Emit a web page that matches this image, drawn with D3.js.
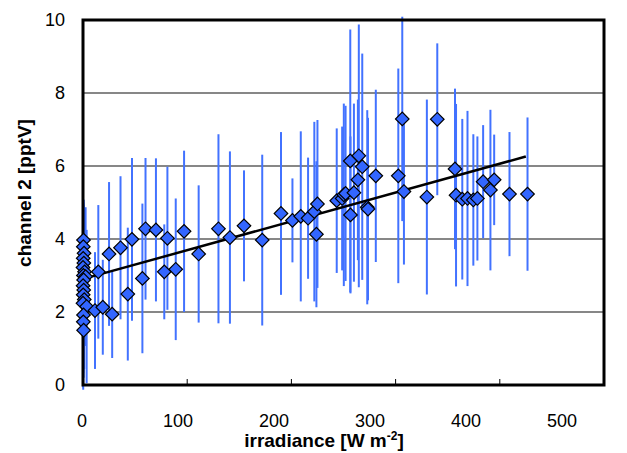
<!DOCTYPE html>
<html>
<head>
<meta charset="utf-8">
<script src="https://cdn.jsdelivr.net/npm/d3@7"></script>
<style>
  body { margin: 0; background: #fff; }
  svg { display: block; font-family: "Liberation Sans", Arial, sans-serif; }
  .tick-label { font-size: 18px; fill: #000; }
  .title { font-size: 19px; font-weight: bold; fill: #000; }
</style>
</head>
<body>
<div id="chart"></div>
<script>
// irradiance [W m-2], channel 2 [pptV], error half-width
const irradiance = [
  0.5, 0.3, 1.0, 0.2, 0.8, 0.0, 1.5, 0.4, 2.5, 0.6, 0.1, 0.7, 0.2, 1.2, 0.0, 3.5, 0.5, 0.3, 0.6,
  11.5, 14.7, 19, 25, 28, 36, 43, 47, 57, 60, 70, 78, 81, 89, 97, 111,
  130, 141, 154.5, 172, 190, 201, 209, 216, 222, 224, 225,
  243.5, 248.7, 250.3, 252, 256.5, 256.7, 260, 263.8, 264.7, 268, 272.8, 273.5, 281,
  302.6, 306.4, 308, 330, 340, 357, 358, 364, 369, 374.6, 378.5, 384, 391, 394.6, 409.3, 426.6
];
const channel2 = [
  3.97, 3.79, 3.61, 3.47, 3.34, 3.22, 3.10, 3.00, 2.97, 2.88, 2.72, 2.60, 2.47, 2.34, 2.24, 2.15, 1.92, 1.73, 1.50,
  2.04, 3.10, 2.13, 3.59, 1.94, 3.76, 2.49, 3.99, 2.92, 4.28, 4.25, 3.10, 4.02, 3.17, 4.21, 3.59,
  4.28, 4.04, 4.36, 3.97, 4.70, 4.51, 4.62, 4.57, 4.75, 4.13, 4.96,
  5.05, 5.11, 5.21, 5.25, 6.14, 4.66, 5.27, 5.62, 6.28, 5.98, 4.87, 4.82, 5.73,
  5.73, 7.29, 5.30, 5.15, 7.28, 5.92, 5.20, 5.09, 5.11, 5.07, 5.11, 5.57, 5.34, 5.62, 5.23, 5.23
];
const errHalf = [
  1.1, 1.3, 1.2, 1.5, 1.6, 1.8, 1.4, 2.0, 1.9, 1.7, 2.2, 2.1, 2.6, 1.9, 2.3, 2.1, 1.5, 1.4, 1.3,
  1.6, 1.83, 1.3, 1.97, 1.2, 1.96, 1.82, 2.23, 2.05, 1.94, 1.96, 1.3, 1.96, 1.94, 2.21, 1.88,
  2.59, 2.36, 1.52, 2.34, 2.23, 1.15, 2.33, 1.66, 2.46, 2.0, 2.3,
  1.98, 1.97, 2.5, 2.4, 3.6, 2.15, 2.44, 2.2, 3.6, 3.1, 2.66, 2.5, 2.36,
  2.94, 2.8, 2.0, 2.67, 2.08, 2.2, 2.5, 2.2, 2.4, 1.8, 1.7, 1.55, 2.2, 1.24, 1.7, 2.1
];
// linear fit drawn in the chart
const trendX = [2, 425];
const trendY = [2.92, 6.26];

const xTicks = [0, 100, 200, 300, 400, 500];
const yTicks = [0, 2, 4, 6, 8, 10];

const width = 627, height = 453;
const svg = d3.select('#chart').append('svg')
  .attr('width', width)
  .attr('height', height);

const x = d3.scaleLinear().domain([0, 500]).range([83, 604]);
const y = d3.scaleLinear().domain([0, 10]).range([385, 20]);
// the tick labels sit a little left of their ticks in the original
const xLabel = d3.scaleLinear().domain([0, 500]).range([82, 562]);

const data = irradiance.map((v, i) => ({ x: v, y: channel2[i], e: errHalf[i] }));

// gridlines
svg.append('g')
  .selectAll('line')
  .data(yTicks.filter(d => d > 0 && d < 10))
  .enter().append('line')
    .attr('x1', x(0)).attr('x2', x(500))
    .attr('y1', d => y(d)).attr('y2', d => y(d))
    .attr('stroke', '#111')
    .attr('stroke-width', 1.2);

// inner ticks on x
svg.append('g')
  .selectAll('line')
  .data(xTicks.filter(d => d > 0 && d < 500))
  .enter().append('line')
    .attr('x1', d => x(d)).attr('x2', d => x(d))
    .attr('y1', y(0)).attr('y2', y(0) - 6)
    .attr('stroke', '#000')
    .attr('stroke-width', 1);

// error bars
svg.append('g')
  .selectAll('line')
  .data(data)
  .enter().append('line')
    .attr('x1', d => x(d.x)).attr('x2', d => x(d.x))
    .attr('y1', d => y(d.y + d.e)).attr('y2', d => y(d.y - d.e))
    .attr('stroke', '#4272ff')
    .attr('stroke-width', 2);

// frame
svg.append('rect')
  .attr('x', x(0)).attr('y', y(10))
  .attr('width', x(500) - x(0)).attr('height', y(0) - y(10))
  .attr('fill', 'none')
  .attr('stroke', '#000')
  .attr('stroke-width', 3);

// fit line
svg.append('line')
  .attr('x1', x(trendX[0])).attr('y1', y(trendY[0]))
  .attr('x2', x(trendX[1])).attr('y2', y(trendY[1]))
  .attr('stroke', '#000')
  .attr('stroke-width', 2.5);

// diamonds
const diamond = d3.symbol().type(d3.symbolSquare).size(92);
svg.append('g')
  .selectAll('path')
  .data(data)
  .enter().append('path')
    .attr('d', diamond)
    .attr('transform', d => `translate(${x(d.x)},${y(d.y)}) rotate(45)`)
    .attr('fill', '#3366ff')
    .attr('stroke', '#000')
    .attr('stroke-width', 1.2);

// tick labels
svg.append('g')
  .selectAll('text')
  .data(yTicks)
  .enter().append('text')
    .attr('class', 'tick-label')
    .attr('x', 65)
    .attr('y', d => y(d))
    .attr('dy', '0.35em')
    .attr('text-anchor', 'end')
    .text(d => d);

svg.append('g')
  .selectAll('text')
  .data(xTicks)
  .enter().append('text')
    .attr('class', 'tick-label')
    .attr('x', d => xLabel(d))
    .attr('y', 427)
    .attr('text-anchor', 'middle')
    .text(d => d);

// axis titles
const xt = svg.append('text')
  .attr('class', 'title')
  .attr('x', 324)
  .attr('y', 447)
  .attr('text-anchor', 'middle');
xt.append('tspan').text('irradiance [W m');
xt.append('tspan').attr('dy', -7).style('font-size', '12px').text('-2');
xt.append('tspan').attr('dy', 7).text(']');

svg.append('text')
  .attr('class', 'title')
  .attr('transform', 'translate(31,193) rotate(-90)')
  .attr('text-anchor', 'middle')
  .text('channel 2 [pptV]');
</script>
</body>
</html>
